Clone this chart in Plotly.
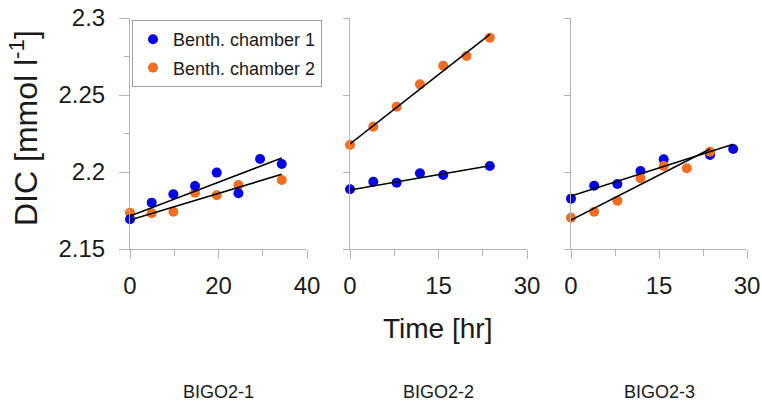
import plotly.graph_objects as go
import numpy as np

# ---------------- data ----------------
panel_names = ["BIGO2-1", "BIGO2-2", "BIGO2-3"]
series_names = ["Benth. chamber 1", "Benth. chamber 2"]

# BIGO2-1
t1_c1 = [0, 4.9, 9.8, 14.7, 19.6, 24.5, 29.4, 34.3]
dic1_c1 = [2.1693, 2.1801, 2.1855, 2.1909, 2.1996, 2.1862, 2.2084, 2.2052]
t1_c2 = [0, 4.9, 9.8, 14.7, 19.6, 24.5, 34.3]
dic1_c2 = [2.1736, 2.1732, 2.1742, 2.1866, 2.1849, 2.1916, 2.1948]

# BIGO2-2
t2_c1 = [0, 3.95, 7.9, 11.85, 15.8, 23.7]
dic2_c1 = [2.1888, 2.1937, 2.1931, 2.1992, 2.1981, 2.2039]
t2_c2 = [0, 3.95, 7.9, 11.85, 15.8, 19.75, 23.7]
dic2_c2 = [2.2175, 2.2294, 2.2424, 2.2569, 2.2690, 2.2753, 2.2872]

# BIGO2-3
t3_c1 = [0, 3.95, 7.9, 11.85, 15.8, 23.7, 27.65]
dic3_c1 = [2.1827, 2.1911, 2.1922, 2.2006, 2.2082, 2.2110, 2.2149]
t3_c2 = [0, 3.95, 7.9, 11.85, 15.8, 19.75, 23.7]
dic3_c2 = [2.1703, 2.1742, 2.1814, 2.1959, 2.2039, 2.2024, 2.2132]

# linear fits (intercept, slope per hour)
fit_c1_intercept = [2.1714, 2.1883, 2.1844]
fit_c1_slope = [0.00110, 0.000667, 0.001217]
fit_c2_intercept = [2.1688, 2.2182, 2.1688]
fit_c2_slope = [0.000866, 0.00300, 0.001945]

y_tickvals = [2.15, 2.2, 2.25, 2.3]
y_ticktext = ["2.15", "2.2", "2.25", "2.3"]
x_ranges = [[0, 40], [0, 30], [0, 30]]
x_major = [20, 15, 15]
x_minor = [10, 7.5, 7.5]

# ---------------- styling ----------------
W, H = 762, 408
BLUE = "#0505e8"
ORANGE = "#f26d1f"
AXIS = "#b4b4b4"
TXT = "#1a1a1a"
FONT = "Liberation Sans, Arial, sans-serif"

x_dom_px = [(130, 307), (350, 527), (571, 747)]
y_dom = [(H - 249) / H, (H - 18) / H]

times_c1 = [t1_c1, t2_c1, t3_c1]
vals_c1 = [dic1_c1, dic2_c1, dic3_c1]
times_c2 = [t1_c2, t2_c2, t3_c2]
vals_c2 = [dic1_c2, dic2_c2, dic3_c2]

fig = go.Figure()

for i in range(3):
    xa = "x" if i == 0 else f"x{i+1}"
    ya = "y" if i == 0 else f"y{i+1}"
    c1 = go.Scatter(x=times_c1[i], y=vals_c1[i], mode="markers", xaxis=xa, yaxis=ya,
                    name=series_names[0], legendgroup="c1", showlegend=(i == 0),
                    legendrank=1, cliponaxis=False,
                    marker=dict(color=BLUE, size=10, line=dict(width=0)))
    c2 = go.Scatter(x=times_c2[i], y=vals_c2[i], mode="markers", xaxis=xa, yaxis=ya,
                    name=series_names[1], legendgroup="c2", showlegend=(i == 0),
                    legendrank=2, cliponaxis=False,
                    marker=dict(color=ORANGE, size=10, line=dict(width=0)))
    if i == 2:
        fig.add_trace(c1); fig.add_trace(c2)
    else:
        fig.add_trace(c2); fig.add_trace(c1)
    for ts, b0, b1 in [(times_c1[i], fit_c1_intercept[i], fit_c1_slope[i]),
                       (times_c2[i], fit_c2_intercept[i], fit_c2_slope[i])]:
        tx = np.array([min(ts), max(ts)])
        fig.add_trace(go.Scatter(x=tx, y=b0 + b1 * tx, mode="lines", xaxis=xa, yaxis=ya,
                                 showlegend=False, cliponaxis=False, hoverinfo="skip",
                                 line=dict(color="black", width=1.6)))

layout = dict(
    width=W, height=H,
    margin=dict(l=0, r=0, t=0, b=0),
    paper_bgcolor="white", plot_bgcolor="white",
    font=dict(family=FONT, color=TXT),
    showlegend=True,
    legend=dict(x=132 / W, y=(H - 20) / H, xanchor="left", yanchor="top",
                bgcolor="white", bordercolor="#a0a0a0", borderwidth=1,
                font=dict(size=18, family=FONT, color=TXT),
                tracegroupgap=2),
)

for i in range(3):
    xk = "xaxis" if i == 0 else f"xaxis{i+1}"
    yk = "yaxis" if i == 0 else f"yaxis{i+1}"
    ya_ref = "y" if i == 0 else f"y{i+1}"
    xa_ref = "x" if i == 0 else f"x{i+1}"
    x0, x1 = x_dom_px[i]
    layout[xk] = dict(
        domain=[x0 / W, x1 / W], anchor=ya_ref, range=x_ranges[i],
        showline=True, linecolor=AXIS, linewidth=1, showgrid=False, zeroline=False,
        ticks="outside", ticklen=9, tickcolor=AXIS, tickwidth=1,
        tick0=0, dtick=x_major[i], ticklabelstandoff=6,
        tickfont=dict(size=24, family=FONT, color=TXT),
        minor=dict(ticks="outside", ticklen=6, tickcolor=AXIS, tickwidth=1,
                   tick0=0, dtick=x_minor[i], showgrid=False),
        automargin=False, fixedrange=True,
    )
    ydict = dict(
        domain=list(y_dom), anchor=xa_ref, range=[2.15, 2.3],
        showline=True, linecolor=AXIS, linewidth=1, showgrid=False, zeroline=False,
        ticks="outside", tickcolor=AXIS, tickwidth=1,
        tickmode="array", tickvals=y_tickvals, ticktext=y_ticktext,
        automargin=False, fixedrange=True,
    )
    if i == 0:
        ydict.update(ticklen=10, showticklabels=True, ticklabelstandoff=9,
                     tickfont=dict(size=24, family=FONT, color=TXT),
                     minor=dict(ticks="outside", ticklen=5, tickcolor=AXIS, tickwidth=1,
                                tick0=2.15, dtick=0.025, showgrid=False))
    else:
        ydict.update(ticklen=6, showticklabels=False)
    layout[yk] = ydict

annotations = [
    dict(text="DIC [mmol l<sup>-1</sup>]", x=24 / W, y=(H - 128) / H, xref="paper", yref="paper",
         textangle=-90, showarrow=False, font=dict(size=32, family=FONT, color=TXT),
         xanchor="center", yanchor="middle"),
    dict(text="Time [hr]", x=437 / W, y=(H - 328) / H, xref="paper", yref="paper",
         showarrow=False, font=dict(size=28, family=FONT, color=TXT),
         xanchor="center", yanchor="middle"),
]
for i, name in enumerate(panel_names):
    x0, x1 = x_dom_px[i]
    annotations.append(dict(text=name, x=(x0 + x1) / 2 / W, y=(H - 392) / H,
                            xref="paper", yref="paper", showarrow=False,
                            font=dict(size=18, family=FONT, color=TXT),
                            xanchor="center", yanchor="middle"))
layout["annotations"] = annotations

fig.update_layout(**layout)
fig.write_html("out.html")
